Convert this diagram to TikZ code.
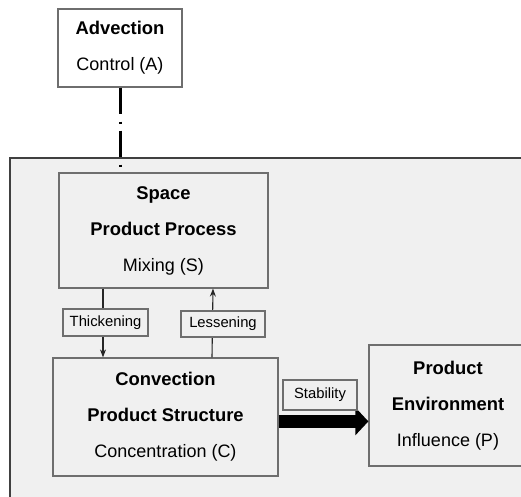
\documentclass[tikz,border=0pt]{standalone}
\usepackage{fontspec}
\setmainfont{Liberation Sans}
\usetikzlibrary{arrows.meta}
\definecolor{panel}{HTML}{F0F0F0}
\definecolor{edge}{HTML}{6E6E6E}
\newcommand{\hd}[1]{{\fontsize{9.2}{18}\selectfont\bfseries #1}}
\begin{document}
\begin{tikzpicture}[%
    x=0.5pt,
    y=-0.5pt,
    block/.style={
      rectangle,
      draw=edge,
      line width=0.6pt,
      fill=panel,
      align=center,
      inner sep=0pt,
      font=\fontsize{9}{18}\selectfont
    },
    tag/.style={
      rectangle,
      draw=edge,
      line width=0.6pt,
      fill=panel,
      align=center,
      inner sep=0pt,
      font=\fontsize{7.4}{9}\selectfont
    },
    flow/.style={
      draw=black!85,
      line width=0.55pt,
      -{Stealth[length=4pt,width=3pt]}
    },
  ]
    \clip (0,0) rectangle (521,497);
    \fill[white] (0,0) rectangle (521,497);
    \draw[draw=black!75,line width=1pt,fill=panel] (10,158) rectangle (530,510);
    \node[block,fill=white,minimum width=62pt,minimum height=39pt] (adv) at (120,48)
      {\hd{Advection}\\Control (A)};
    \node[block,minimum width=104.5pt,minimum height=57.5pt] (space) at (163.5,230.5)
      {\hd{Space}\\\hd{Product Process}\\Mixing (S)};
    \node[block,minimum width=112.5pt,minimum height=59pt] (conv) at (165.5,417)
      {\hd{Convection}\\\hd{Product Structure}\\Concentration (C)};
    \node[block,minimum width=79pt,minimum height=60.5pt] (prod) at (448,405.5)
      {\hd{Product}\\\hd{Environment}\\Influence (P)};
    \draw[black,line width=1.5pt,dash pattern=on 13pt off 4pt on 1pt off 3.5pt]
      (adv.south) -- (adv.south |- space.north);
    \draw[flow] (103,0 |- space.south) -- (103,0 |- conv.north);
    \draw[flow] (212,0 |- conv.north) -- (213,0 |- space.south);
    \node[tag,minimum width=42.5pt,minimum height=13.5pt] (thick) at (105.5,322.5) {Thickening};
    \node[tag,minimum width=42pt,minimum height=13pt] (less) at (223,324) {Lessening};
    \draw[black,line width=6.5pt,-{Triangle[length=6.5pt,width=13.5pt]}]
      ([yshift=-2.2pt]conv.east) -- ([yshift=-2.2pt]conv.east -| prod.west);
    \node[tag,minimum width=37pt,minimum height=15pt] (stab) at (320,395) {Stability};
  \end{tikzpicture}
\end{document}
